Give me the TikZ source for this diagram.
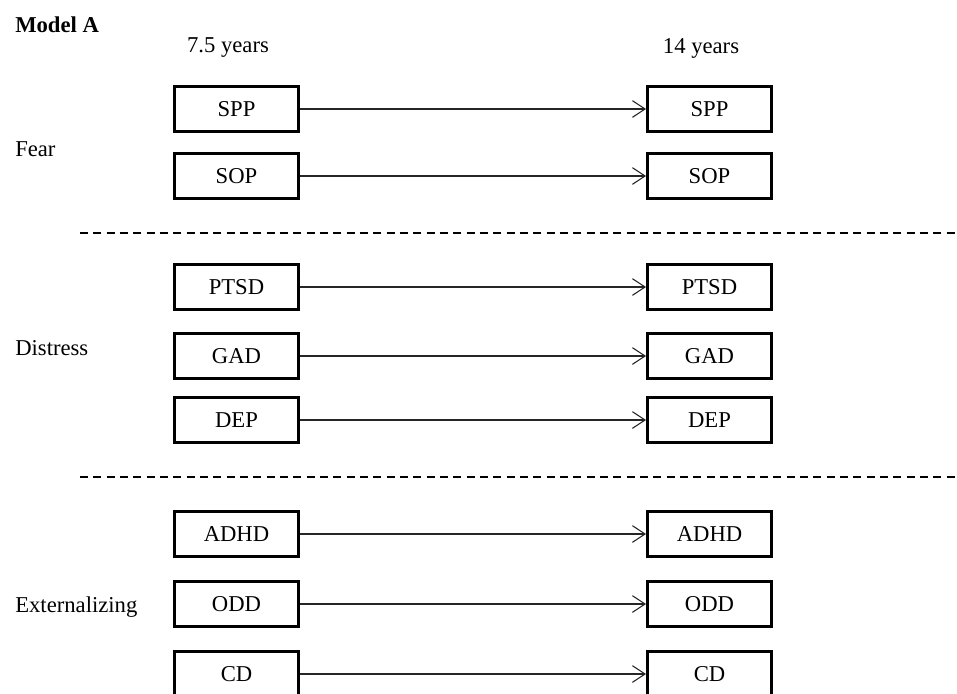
\documentclass[tikz,border=0pt]{standalone}
\usepackage{fontspec}
\setmainfont{Liberation Serif}
\usetikzlibrary{arrows.meta}
\begin{document}
\begin{tikzpicture}[x=0.75pt,y=-0.75pt,
  varbox/.style={draw,line width=2.2pt,minimum width=93pt,minimum height=34pt,inner sep=0pt,font=\fontsize{17}{19}\selectfont},
  lbl/.style={inner sep=0pt,font=\fontsize{17}{19}\selectfont},
  path/.style={line width=0.8pt,draw=black!85,-{Straight Barb[length=9.5pt,width=12.5pt,line width=0.8pt]}},
  sep/.style={line width=0.8pt,dash pattern=on 6pt off 4pt}]
\useasboundingbox (0,0) rectangle (957,693);
\clip (0,0) rectangle (957,693);
\node[lbl,anchor=west,font=\fontsize{17}{19}\selectfont\bfseries] (model) at (15,25) {Model A};
\node[lbl] (t1) at (228,48) {7.5 years};
\node[lbl] (t2) at (701,48) {14 years};
\node[lbl,anchor=west] (fear) at (15,149) {Fear};
\node[lbl,anchor=west] (distress) at (15,348) {Distress};
\node[lbl,anchor=west] (ext) at (15,607) {Externalizing};
\foreach \n/\y in {SPP/109,SOP/176,PTSD/287,GAD/356,DEP/420,ADHD/534,ODD/604,CD/674}{
  \node[varbox] (L\n) at (236.5,\y) {\n};
  \node[varbox] (R\n) at (709.5,\y) {\n};
  \draw[path] (L\n) -- (R\n);
}
\coordinate (d1a) at (80,233); \coordinate (d1b) at (957,233);
\coordinate (d2a) at (80,477); \coordinate (d2b) at (957,477);
\draw[sep] (d1a) -- (d1b);
\draw[sep] (d2a) -- (d2b);
\end{tikzpicture}
\end{document}
